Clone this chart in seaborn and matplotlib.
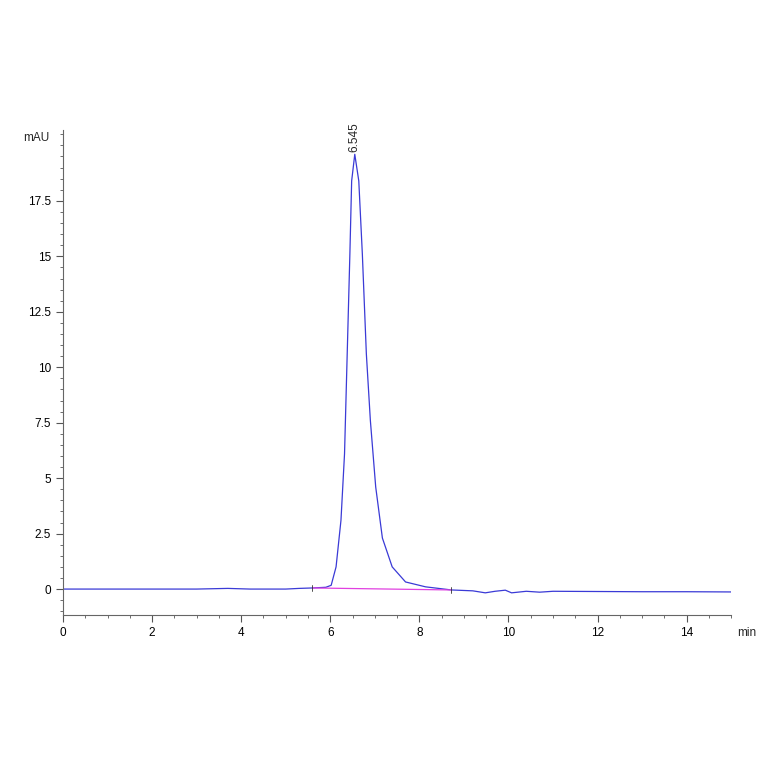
import matplotlib
matplotlib.use("Agg")
import matplotlib.pyplot as plt
import seaborn as sns
import pandas as pd
from matplotlib.ticker import MultipleLocator

# chromatogram trace (min, mAU)
time_min = [0.0, 1.0, 2.0, 3.0, 3.7, 4.2, 5.0, 5.3, 5.6, 5.9, 6.02, 6.13, 6.24, 6.32,
            6.38, 6.44, 6.48, 6.55, 6.64, 6.72, 6.81, 6.90, 7.02, 7.17, 7.39,
            7.69, 8.14, 8.72, 9.2, 9.48, 9.7, 9.93, 10.07, 10.4, 10.7, 11.0,
            12.0, 13.0, 14.0, 15.0]
signal_mau = [0.0, 0.0, 0.0, 0.0, 0.03, 0.0, 0.0, 0.03, 0.05, 0.08, 0.17, 1.0, 3.1, 6.1,
              10.6, 15.1, 18.4, 19.6, 18.4, 15.1, 10.6, 7.6, 4.6, 2.3, 1.0,
              0.32, 0.1, -0.04, -0.08, -0.17, -0.1, -0.05, -0.17, -0.1, -0.14, -0.1,
              -0.11, -0.12, -0.12, -0.13]

baseline_t = [5.6, 8.72]
baseline_y = [0.05, -0.04]

peak_rt = 6.545
peak_h = 19.6

fig = plt.figure(figsize=(7.64, 7.64), dpi=100)
ax = fig.add_axes([0.0825, 0.195, 0.8745, 0.635])
sns.set_style("white")

df = pd.DataFrame({"t": time_min, "y": signal_mau})
sns.lineplot(data=df, x="t", y="y", color="#3a3ad6", linewidth=0.9, ax=ax)
ax.plot(baseline_t, baseline_y, color="#e040e0", linewidth=0.9)
for t, y in zip(baseline_t, baseline_y):
    ax.plot([t, t], [y - 0.15, y + 0.15], color="#333333", linewidth=0.6)

ax.text(peak_rt, peak_h + 0.1, f"{peak_rt:.3f}", rotation=90, ha="center", va="bottom",
        fontsize=8.5, family="Liberation Sans")

ax.set_xlim(0, 15)
ax.set_ylim(-1.17, 20.7)
ax.set_xticks(range(0, 15, 2))
ax.set_yticks([0, 2.5, 5, 7.5, 10, 12.5, 15, 17.5])
ax.set_yticklabels(["0", "2.5", "5", "7.5", "10", "12.5", "15", "17.5"])
ax.xaxis.set_minor_locator(MultipleLocator(0.5))
ax.yaxis.set_minor_locator(MultipleLocator(0.5))
ax.tick_params(which="major", length=5, color="#555555", labelsize=8.5, direction="out")
ax.tick_params(which="minor", length=2.5, color="#555555")
for lbl in ax.get_xticklabels() + ax.get_yticklabels():
    lbl.set_family("Liberation Sans")
ax.set_xlabel("")
ax.set_ylabel("")
for side in ["top", "right"]:
    ax.spines[side].set_visible(False)
for side in ["left", "bottom"]:
    ax.spines[side].set_color("#666666")
    ax.spines[side].set_linewidth(0.8)

fig.text(0.065, 0.82, "mAU", ha="right", va="center", fontsize=8.5, family="Liberation Sans")
fig.text(0.965, 0.172, "min", ha="left", va="center", fontsize=8.5, family="Liberation Sans")

fig.savefig("out.png", dpi=100)
